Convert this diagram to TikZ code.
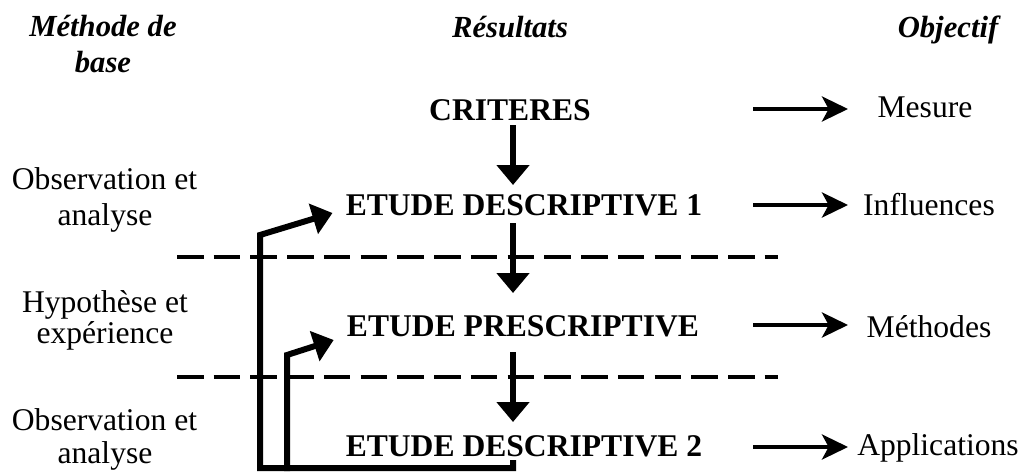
\documentclass[tikz,border=0pt]{standalone}
\usepackage{fontspec}
\setmainfont{Liberation Serif}
\usetikzlibrary{arrows.meta,calc}
\begin{document}
\begin{tikzpicture}[x=0.75pt,y=-0.75pt,
  txt/.style={inner sep=0pt, anchor=base, font=\fontsize{23.7}{28}\selectfont},
  res/.style={txt, font=\fontsize{23.7}{28}\selectfont\bfseries},
  hdr/.style={txt, font=\fontsize{23}{28}\selectfont\bfseries\itshape},
  varrow/.style={line width=4.1pt, -{Triangle[length=15pt,width=24pt]}},
  harrow/.style={line width=3pt, -{Stealth[length=19.5pt,width=18.75pt,inset=5pt]}},
  fb/.style={line width=4.5pt, line join=miter, -{Triangle[length=15pt,width=23pt]}},
  sep/.style={line width=3pt, dash pattern=on 19.9pt off 7.65pt}]
\useasboundingbox (0,0) rectangle (1022,475);

% headers
\node[hdr] (h1a) at (103,36) {Méthode de};
\node[hdr] (h1b) at (103,72) {base};
\node[hdr] (h2) at (510,37) {Résultats};
\node[hdr] (h3) at (948,37) {Objectif};

% results
\node[res] (crit) at (510,120) {CRITERES};
\node[res] (ed1) at (524,215) {ETUDE DESCRIPTIVE 1};
\node[res] (ep) at (523,336) {ETUDE PRESCRIPTIVE};
\node[res] (ed2) at (524,456) {ETUDE DESCRIPTIVE 2};

% methods
\node[txt] (l1a) at (104.5,189) {Observation et};
\node[txt] (l1b) at (105,225) {analyse};
\node[txt] (l2a) at (105,312) {Hypothèse et};
\node[txt] (l2b) at (105,343) {expérience};
\node[txt] (l3a) at (104.5,430) {Observation et};
\node[txt] (l3b) at (105,463) {analyse};

% objectives
\node[txt] (o1) at (925,117) {Mesure};
\node[txt] (o2) at (929,215) {Influences};
\node[txt] (o3) at (929,337) {Méthodes};
\node[txt] (o4) at (938,455) {Applications};

% helper coordinates
\coordinate (ax) at (513,0);
\coordinate (rs) at (753,0);
\coordinate (re) at (848,0);
\coordinate (xo) at (260,0);
\coordinate (xi) at (287,0);
\coordinate (bot) at (0,468);
\coordinate (boti) at (0,471);
\coordinate (topo) at (0,235);
\coordinate (topi) at (0,355);

% separators
\draw[sep] (177,257) -- (778,257);
\draw[sep] (177,377) -- (778,377);

% vertical arrows
\draw[varrow] ($(crit.base -| ax)+(0,5)$) -- ($(ed1.base -| ax)+(0,-30)$);
\draw[varrow] ($(ed1.base -| ax)+(0,8)$) -- ($(ep.base -| ax)+(0,-43)$);
\draw[varrow] ($(ep.base -| ax)+(0,16)$) -- ($(ed2.base -| ax)+(0,-34)$);

% objective arrows
\draw[harrow] ($(crit.base -| rs)+(0,-11)$) -- ($(crit.base -| re)+(0,-11)$);
\draw[harrow] ($(ed1.base -| rs)+(0,-10)$) -- ($(ed1.base -| re)+(0,-10)$);
\draw[harrow] ($(ep.base -| rs)+(0,-11)$) -- ($(ep.base -| re)+(0,-11)$);
\draw[harrow] ($(ed2.base -| rs)+(0,-9)$) -- ($(ed2.base -| re)+(0,-9)$);

% feedback arrows
\draw[fb] ($(ed2.base -| ax)+(0,4)$) |- (bot -| xo) -- (topo -| xo) -- ($(ed1.base west)+(-13,-2)$);
\draw[fb] (boti -| xi) -- (topi -| xi) -- ($(ep.base west)+(-13,4)$);
\end{tikzpicture}
\end{document}
